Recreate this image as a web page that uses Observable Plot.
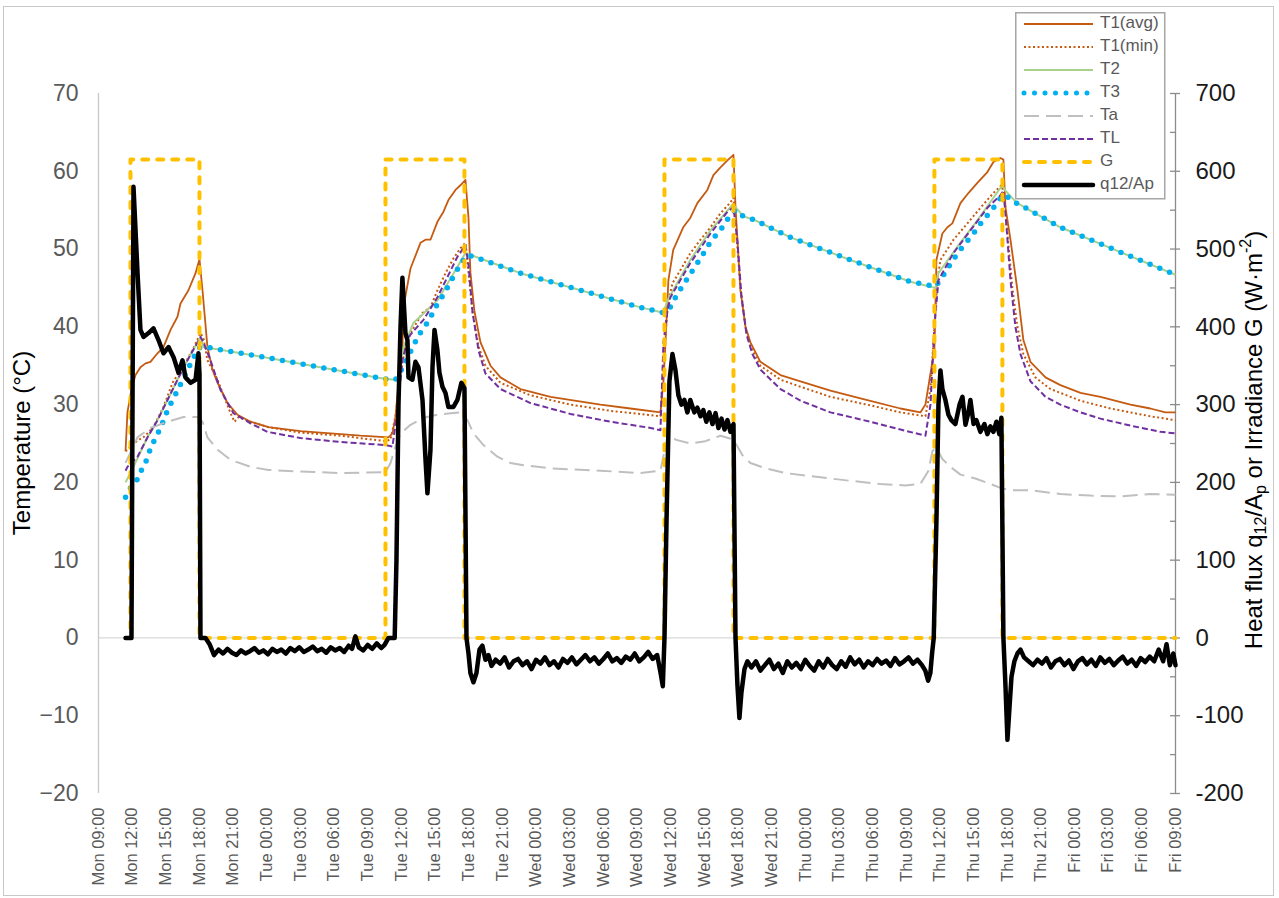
<!DOCTYPE html>
<html><head><meta charset="utf-8">
<script src="https://cdn.jsdelivr.net/npm/d3@7"></script>
<script src="https://cdn.jsdelivr.net/npm/@observablehq/plot@0.6"></script>
<style>
body{margin:0;background:#fff;font-family:Arial,"Liberation Sans",sans-serif;}
#wrap{position:relative;width:1279px;height:898px;overflow:hidden;}
#frame{position:absolute;left:3px;top:6px;width:1269px;height:888px;border:1px solid #c8c8c8;pointer-events:none;}
#legend{position:absolute;left:1015px;top:12px;}
</style>
</head><body><div id="wrap"><div id="frame"></div></div>
<script>
// time = hours since Monday 00:00
const days = ["Mon", "Tue", "Wed", "Thu", "Fri"];
const xTicks = d3.range(9, 106, 3);
const yTicks = d3.range(-20, 71, 10);
const yMinor = d3.range(-15, 70, 10);

const T1avg = [[11.41,24.0],[11.58,29.0],[11.94,32.0],[12.30,33.8],[12.74,34.8],[13.19,35.3],[13.63,35.5],[14.26,36.6],[14.79,37.4],[15.42,39.6],[16.04,41.3],[16.31,43.0],[17.02,44.7],[17.65,46.9],[18.00,48.7],[18.27,44.7],[18.71,37.4],[19.16,34.5],[19.61,32.8],[20.50,30.2],[21.39,28.7],[22.55,27.8],[24.15,27.1],[27.00,26.6],[29.68,26.3],[32.35,26.0],[34.85,25.8],[35.20,26.3],[35.47,28.4],[35.74,32.8],[36.09,37.0],[36.18,42.5],[36.81,47.5],[37.70,50.8],[38.15,51.2],[38.59,51.2],[39.21,53.5],[39.75,54.8],[40.19,56.3],[40.82,57.6],[41.26,58.2],[41.71,58.9],[41.98,54.0],[42.15,47.0],[42.51,42.0],[43.05,38.0],[43.94,35.0],[44.83,33.5],[46.61,32.0],[49.29,31.0],[53.74,30.0],[56.41,29.5],[59.09,29.0],[59.36,33.0],[59.54,38.0],[59.80,46.0],[60.23,49.9],[61.12,52.8],[61.75,54.0],[62.38,55.9],[63.27,57.6],[63.81,59.5],[64.44,60.5],[65.06,61.4],[65.60,62.1],[65.78,55.4],[66.22,44.7],[66.67,40.0],[67.11,38.0],[68.00,35.5],[69.79,33.8],[71.57,33.0],[74.24,31.8],[76.92,30.8],[80.48,29.5],[82.26,29.0],[82.71,30.0],[83.16,34.0],[83.51,37.0],[83.69,48.6],[84.22,52.0],[84.67,52.8],[85.11,53.3],[85.83,55.9],[86.54,57.2],[87.34,58.5],[88.23,59.9],[88.77,61.2],[89.39,61.7],[89.66,61.5],[89.84,55.4],[90.29,51.2],[90.91,44.7],[91.44,38.3],[92.07,35.5],[93.41,33.5],[94.74,32.5],[96.53,31.5],[98.31,31.0],[100.98,30.0],[102.76,29.5],[104.10,29.0],[105.00,29.0]];

const T1min = [[11.41,24.0],[12.48,25.4],[13.01,25.8],[13.90,27.1],[14.79,29.7],[15.60,32.8],[16.49,34.8],[17.38,37.0],[18.09,39.2],[18.36,38.5],[18.71,35.7],[19.61,33.2],[20.77,28.9],[21.12,27.8],[21.48,28.4],[22.55,27.8],[24.15,27.1],[27.00,26.4],[30.57,26.0],[34.58,25.3],[35.03,25.5],[35.47,28.5],[35.92,34.0],[36.36,37.5],[36.81,39.2],[37.88,41.8],[38.59,42.5],[39.21,44.7],[39.93,46.9],[40.64,48.8],[41.26,50.1],[41.71,50.8],[41.98,47.0],[42.33,42.0],[42.87,37.5],[43.49,35.0],[44.83,32.8],[47.50,31.2],[51.07,30.0],[54.63,29.2],[59.09,28.5],[59.36,35.0],[59.71,42.5],[60.16,45.6],[60.87,47.3],[61.77,49.5],[62.66,51.2],[63.55,52.8],[64.44,54.6],[65.33,56.0],[65.60,56.6],[65.86,52.0],[66.22,45.0],[66.67,40.0],[67.11,37.5],[68.00,35.0],[69.79,33.2],[71.57,32.3],[74.24,31.0],[77.81,29.9],[80.48,29.0],[82.71,28.5],[83.16,32.0],[83.51,40.0],[83.78,46.0],[84.05,48.6],[85.21,51.2],[86.45,53.3],[87.61,55.3],[88.77,57.2],[89.48,58.2],[89.75,57.0],[90.02,52.0],[90.46,45.0],[90.91,40.0],[91.44,36.5],[92.51,33.5],[93.85,32.0],[96.53,30.5],[99.20,29.5],[102.76,28.5],[105.00,28.0]];

const T2 = [[11.41,20.0],[11.85,21.2],[13.37,25.8],[14.26,28.0],[15.15,30.6],[16.04,33.2],[16.93,35.7],[18.09,38.7],[18.36,37.4],[24.15,36.0],[34.58,33.3],[35.65,33.2],[36.18,37.4],[37.07,40.5],[38.32,42.2],[39.21,43.4],[40.99,47.7],[41.71,49.5],[41.89,49.4],[46.61,46.9],[51.96,44.7],[57.31,42.5],[59.36,41.8],[59.71,43.4],[61.75,48.6],[63.55,52.4],[65.51,55.7],[65.78,55.4],[66.49,54.2],[67.38,53.8],[70.68,51.5],[76.02,48.6],[81.37,45.8],[83.60,45.0],[83.87,46.9],[85.56,50.3],[87.34,53.7],[88.77,56.6],[89.57,58.2],[89.84,57.5],[90.82,56.0],[91.62,55.3],[94.74,52.8],[100.09,49.6],[105.00,46.7]];

const T3 = [[11.41,18.1],[11.85,19.3],[12.57,20.6],[12.92,21.9],[13.37,23.1],[13.63,24.4],[14.08,25.7],[14.53,27.0],[15.24,29.6],[15.69,30.8],[16.13,32.1],[16.58,33.4],[17.02,34.7],[17.47,36.0],[17.91,37.3],[18.54,37.4],[24.15,36.0],[34.58,33.3],[35.47,33.2],[36.09,34.7],[36.54,36.0],[36.98,37.3],[37.43,38.6],[37.88,39.7],[38.41,40.7],[38.86,42.0],[39.30,43.2],[39.84,44.3],[40.28,45.6],[40.82,46.9],[41.26,48.1],[41.89,49.2],[42.51,49.0],[46.61,46.9],[51.96,44.7],[57.31,42.5],[59.36,41.8],[59.89,42.3],[60.23,43.3],[60.77,44.6],[61.30,45.8],[61.84,47.0],[62.38,48.2],[62.91,49.4],[63.36,50.5],[63.99,51.7],[64.61,52.8],[65.15,54.0],[65.78,55.0],[66.49,54.2],[67.38,53.8],[70.68,51.5],[76.02,48.6],[81.37,45.8],[83.60,45.2],[84.22,46.4],[84.67,47.5],[85.21,48.7],[85.75,49.8],[86.37,50.9],[87.00,52.0],[87.53,53.1],[88.15,54.2],[88.77,55.3],[89.30,56.4],[89.75,57.0],[90.82,55.9],[91.62,55.3],[94.74,52.8],[100.09,49.6],[105.00,46.7]];

const Ta = [[11.41,22.5],[12.48,25.8],[13.63,27.0],[15.15,27.8],[16.58,28.4],[17.82,28.4],[18.27,27.8],[18.71,25.8],[19.61,24.2],[20.77,22.9],[22.55,22.0],[24.15,21.6],[27.00,21.4],[30.57,21.2],[34.58,21.3],[35.03,22.5],[35.47,24.6],[35.92,26.3],[36.81,27.4],[37.97,28.3],[39.21,28.7],[40.37,28.9],[41.26,29.0],[41.89,28.0],[42.42,26.3],[43.31,24.8],[44.56,23.3],[45.72,22.5],[46.88,22.2],[48.13,22.0],[49.29,21.8],[53.74,21.5],[57.31,21.2],[59.09,21.5],[59.45,24.0],[59.80,26.3],[60.42,25.5],[61.75,25.0],[63.09,25.3],[64.44,26.0],[65.60,25.5],[66.40,23.5],[67.11,22.5],[68.45,21.8],[70.23,21.2],[72.46,20.8],[76.02,20.2],[78.70,19.8],[80.93,19.6],[82.26,19.8],[82.98,21.5],[83.33,24.0],[83.69,24.5],[84.22,23.0],[84.94,22.0],[85.83,21.0],[87.16,20.5],[88.50,19.8],[89.39,19.3],[90.29,19.0],[92.07,19.0],[94.74,18.5],[97.41,18.3],[100.09,18.2],[102.76,18.5],[105.00,18.4]];

const TL = [[11.41,21.5],[11.58,22.0],[12.48,23.3],[13.37,25.8],[14.26,28.0],[15.15,30.6],[16.04,33.2],[16.93,35.7],[18.09,38.7],[18.36,38.0],[18.98,35.7],[19.87,31.9],[21.03,28.9],[22.55,27.6],[24.06,26.5],[27.00,25.7],[30.57,25.2],[34.58,24.8],[35.20,24.6],[35.65,29.3],[36.09,35.7],[36.54,38.3],[36.81,39.0],[37.97,40.9],[39.21,43.8],[40.10,46.4],[40.99,49.0],[41.71,50.5],[41.98,48.0],[42.33,42.0],[42.87,37.0],[43.49,34.0],[44.83,32.0],[47.50,30.2],[51.07,28.8],[54.63,27.8],[58.20,27.0],[59.09,26.7],[59.36,38.0],[59.71,42.0],[59.98,43.8],[61.75,48.2],[63.55,52.0],[65.06,54.8],[65.60,55.4],[65.95,51.0],[66.31,44.0],[66.76,39.0],[67.29,36.5],[68.00,34.5],[69.79,32.0],[71.57,30.5],[74.24,29.0],[77.81,27.8],[80.48,26.8],[82.71,26.0],[83.16,30.0],[83.51,40.0],[83.87,46.0],[85.21,49.5],[86.72,52.4],[88.23,55.3],[89.39,56.9],[89.66,57.5],[89.93,53.0],[90.29,46.0],[90.73,40.0],[91.18,36.5],[92.07,33.0],[93.41,31.0],[94.74,30.0],[96.53,29.0],[98.31,28.2],[100.98,27.3],[103.66,26.5],[105.00,26.3]];

// irradiance G, W·m-2
const G = [[11.41,0],[11.85,0],[11.85,615],[18.0,615],[18.0,0],[34.58,0],[34.58,615],[41.62,615],[41.62,0],[59.45,0],[59.45,615],[65.6,615],[65.6,0],[83.51,0],[83.51,615],[89.57,615],[89.57,0],[105,0]];

// heat flux q12/Ap, W·m-2
const q12Ap = [[11.41,0],[11.94,0],[12.12,580],[12.48,469],[12.74,396],[13.01,387],[13.46,392],[13.90,398],[14.35,383],[14.79,366],[15.24,374],[15.69,361],[16.13,341],[16.49,357],[16.75,335],[17.20,328],[17.65,332],[17.91,366],[18.00,340],[18.09,0],[18.54,0],
[18.9,-8],[19.3,-22],[19.7,-15],[20.1,-20],[20.5,-14],[20.9,-19],[21.3,-22],[21.7,-16],[22.1,-20],[22.5,-17],[22.9,-13],[23.3,-19],[23.7,-16],[24.1,-21],[24.5,-14],[24.9,-18],[25.3,-15],[25.7,-20],[26.1,-13],[26.5,-17],[26.9,-12],[27.3,-18],[27.7,-15],[28.1,-11],[28.5,-17],[28.9,-14],[29.3,-19],[29.7,-12],[30.1,-16],[30.5,-13],[30.9,-18],[31.3,-10],[31.6,-14],[31.9,2],[32.2,-12],[32.6,-16],[33.0,-9],[33.4,-14],[33.8,-7],[34.2,-13],[34.5,-9],[34.85,0],[35.4,0],
[35.56,100],[35.74,300],[35.92,400],[36.09,463],[36.36,392],[36.54,383],[36.63,335],[36.98,332],[37.25,355],[37.52,348],[37.88,306],[38.15,229],[38.32,186],[38.59,242],[38.77,348],[38.95,396],[39.21,370],[39.39,341],[39.66,323],[39.93,315],[40.19,297],[40.64,297],[40.99,306],[41.35,328],[41.62,321],[41.80,0],
[41.98,-20],[42.15,-45],[42.42,-57],[42.69,-45],[42.96,-15],[43.22,-10],[43.49,-28],[43.76,-22],[44.03,-36],[44.4,-28],[44.8,-33],[45.2,-25],[45.6,-38],[46.0,-30],[46.4,-27],[46.8,-35],[47.2,-30],[47.6,-40],[48.0,-28],[48.4,-33],[48.8,-25],[49.2,-35],[49.6,-30],[50.0,-38],[50.4,-27],[50.8,-32],[51.2,-25],[51.6,-34],[52.0,-28],[52.4,-22],[52.8,-30],[53.2,-25],[53.6,-33],[54.0,-27],[54.4,-20],[54.8,-30],[55.2,-26],[55.6,-32],[56.0,-24],[56.4,-28],[56.8,-20],[57.2,-30],[57.6,-25],[58.0,-18],[58.4,-27],[58.8,-22],[59.1,-45],[59.3,-62],[59.45,0],
[59.63,150],[59.89,330],[60.16,365],[60.42,345],[60.69,312],[60.96,300],[61.22,306],[61.49,290],[61.75,306],[62.11,290],[62.38,296],[62.66,285],[62.91,293],[63.18,278],[63.45,290],[63.73,275],[64.00,289],[64.26,270],[64.53,282],[64.80,268],[65.06,280],[65.33,265],[65.60,275],[65.78,0],
[65.95,-60],[66.13,-103],[66.31,-70],[66.58,-40],[66.84,-30],[67.2,-38],[67.6,-30],[68.0,-42],[68.4,-35],[68.8,-28],[69.2,-40],[69.6,-33],[70.0,-45],[70.4,-30],[70.8,-38],[71.2,-32],[71.6,-40],[72.0,-28],[72.4,-36],[72.8,-42],[73.2,-30],[73.6,-38],[74.0,-27],[74.4,-35],[74.8,-40],[75.2,-30],[75.6,-37],[76.0,-25],[76.4,-34],[76.8,-28],[77.2,-38],[77.6,-30],[78.0,-35],[78.4,-27],[78.8,-33],[79.2,-29],[79.6,-36],[80.0,-26],[80.4,-34],[80.8,-30],[81.2,-25],[81.6,-33],[82.0,-28],[82.4,-35],[82.7,-42],[82.95,-55],[83.15,-45],[83.3,-20],[83.45,0],
[83.69,150],[83.87,300],[84.05,344],[84.22,320],[84.49,306],[84.76,287],[85.02,280],[85.38,275],[85.75,300],[86.01,310],[86.28,274],[86.54,290],[86.72,306],[87.00,275],[87.25,280],[87.61,265],[87.97,275],[88.23,262],[88.50,272],[88.77,265],[89.04,278],[89.30,262],[89.48,283],[89.66,0],
[89.84,-60],[90.02,-131],[90.20,-90],[90.38,-50],[90.64,-30],[90.91,-20],[91.18,-15],[91.5,-25],[91.9,-30],[92.3,-35],[92.7,-28],[93.1,-33],[93.5,-26],[93.9,-38],[94.3,-30],[94.7,-27],[95.1,-35],[95.5,-29],[95.9,-40],[96.3,-30],[96.7,-26],[97.1,-34],[97.5,-28],[97.9,-36],[98.3,-25],[98.7,-32],[99.1,-27],[99.5,-35],[99.9,-29],[100.3,-24],[100.7,-33],[101.1,-28],[101.5,-36],[101.9,-26],[102.3,-31],[102.7,-24],[103.1,-30],[103.5,-15],[103.9,-30],[104.2,-8],[104.5,-35],[104.8,-20],[105.0,-35]];

const series = [
  {name: "T1(avg)", data: T1avg, scale: 1, stroke: "#C55A11", width: 1.8, dash: null, cap: "butt"},
  {name: "T1(min)", data: T1min, scale: 1, stroke: "#C55A11", width: 2, dash: "2 2.5", cap: "butt"},
  {name: "T2", data: T2, scale: 1, stroke: "#A9D18E", width: 2, dash: null, cap: "butt"},
  {name: "T3", data: T3, scale: 1, stroke: "#00B0F0", width: 5.5, dash: "0 10.5", cap: "round"},
  {name: "Ta", data: Ta, scale: 1, stroke: "#BFBFBF", width: 2, dash: "15 7", cap: "butt"},
  {name: "TL", data: TL, scale: 1, stroke: "#7030A0", width: 2, dash: "6 3", cap: "butt"},
  {name: "G", data: G, scale: 10, stroke: "#FFC000", width: 4, dash: "6 9", cap: "round"},
  {name: "q12/Ap", data: q12Ap, scale: 10, stroke: "#000000", width: 4.5, dash: null, cap: "round"}
];

const fmtX = h => `${days[Math.floor(h / 24)]} ${String(h % 24).padStart(2, "0")}:00`;

const lineMarks = series.map(s => Plot.line(s.data, {
  x: d => d[0], y: d => d[1] / s.scale,
  stroke: s.stroke, strokeWidth: s.width,
  strokeDasharray: s.dash, strokeLinecap: s.cap, strokeLinejoin: "round"
}));

const chart = Plot.plot({
  width: 1279, height: 898,
  marginLeft: 98, marginRight: 104, marginTop: 93, marginBottom: 105,
  x: {type: "linear", domain: [9, 105]},
  y: {type: "linear", domain: [-20, 70]},
  style: {fontFamily: "Arial, 'Liberation Sans', sans-serif", background: "transparent", overflow: "visible"},
  marks: [
    Plot.ruleY([0], {stroke: "#d9d9d9", strokeWidth: 1.3}),
    Plot.ruleX([9], {stroke: "#c8c8c8", strokeWidth: 1.3}),
    Plot.ruleX([105], {stroke: "#8c8c8c", strokeWidth: 1.3}),
    Plot.ruleY(yTicks, {x1: 105, x2: 105, insetLeft: -5, insetRight: -5, stroke: "#8c8c8c", strokeWidth: 1.3}),
    Plot.ruleY(yMinor, {x1: 105, x2: 105, insetLeft: -5, stroke: "#8c8c8c", strokeWidth: 1.3}),
    ...lineMarks,
    Plot.axisY({anchor: "left", ticks: yTicks, tickSize: 0, tickPadding: 20, fontSize: 23, color: "#595959", label: null}),
    Plot.axisY({anchor: "right", ticks: yTicks, tickSize: 0, tickPadding: 20, fontSize: 24, color: "#1a1a1a", tickFormat: d => d * 10, label: null}),
    Plot.axisX({ticks: xTicks, tickSize: 0, tickPadding: 14, tickRotate: -90, fontSize: 16.5, color: "#595959", tickFormat: fmtX, label: null})
  ]
});

const wrap = document.getElementById("wrap");
wrap.insertBefore(chart, wrap.firstChild);

// axis titles
const svg = d3.select(chart);
svg.append("text")
  .attr("transform", "translate(24,443) rotate(-90)")
  .attr("text-anchor", "middle").attr("dominant-baseline", "middle")
  .attr("font-size", 24).attr("fill", "#000")
  .text("Temperature (°C)");
const rt = svg.append("text")
  .attr("transform", "translate(1256,440) rotate(-90)")
  .attr("text-anchor", "middle").attr("dominant-baseline", "middle")
  .attr("font-size", 24).attr("fill", "#000");
rt.append("tspan").text("Heat flux q");
rt.append("tspan").attr("font-size", 16).attr("dy", 6).text("12");
rt.append("tspan").attr("dy", -6).text("/A");
rt.append("tspan").attr("font-size", 16).attr("dy", 6).text("p");
rt.append("tspan").attr("dy", -6).text(" or Irradiance G (W·m");
rt.append("tspan").attr("font-size", 16).attr("dy", -9).text("-2");
rt.append("tspan").attr("dy", 9).text(")");

// legend
const lg = d3.select(wrap).append("svg").attr("id", "legend")
  .attr("width", 151).attr("height", 188);
lg.append("rect").attr("x", 0.75).attr("y", 0.75).attr("width", 149).attr("height", 186)
  .attr("fill", "#fff").attr("stroke", "#a6a6a6").attr("stroke-width", 1.5);
series.forEach((s, i) => {
  const y = 12 + i * 23;
  lg.append("line").attr("x1", 9).attr("x2", 78).attr("y1", y).attr("y2", y)
    .attr("stroke", s.stroke).attr("stroke-width", Math.min(s.width, 5))
    .attr("stroke-dasharray", s.dash).attr("stroke-linecap", s.cap);
  lg.append("text").attr("x", 85).attr("y", y).attr("dominant-baseline", "middle")
    .attr("font-size", 17).attr("fill", "#595959").attr("font-family", "Arial, 'Liberation Sans', sans-serif")
    .text(s.name);
});
</script>
</body></html>
